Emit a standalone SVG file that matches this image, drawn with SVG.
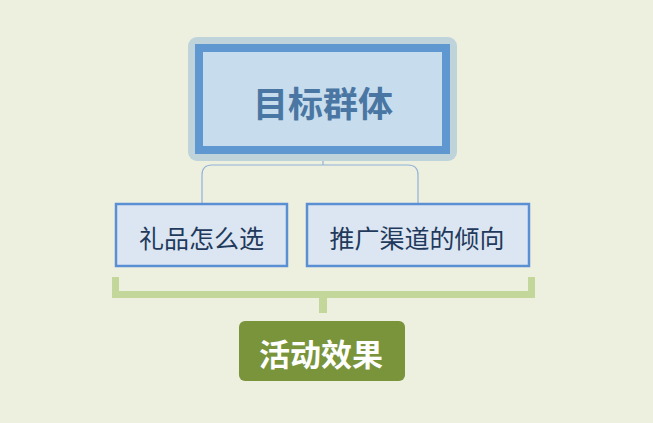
<svg xmlns="http://www.w3.org/2000/svg" width="653" height="423" viewBox="0 0 653 423">
<style>
.child rect{fill:#DCE6F2;stroke:#5B8FD3;stroke-width:2.5}
.child text{font-family:"Noto Sans CJK SC","Noto Sans",sans-serif;font-size:25px;fill:#1F3A5C;text-anchor:middle;dominant-baseline:central}
.conn{fill:none;stroke:#8FB2D8;stroke-width:1.2}
.brk{fill:#C4D79B}
</style>
<rect width="653" height="423" fill="#EDF0DF"/>
<g id="connectors">
<path class="conn" d="M323 154 V165 M202 204 V175 Q202 165 212 165 H408 Q418 165 418 175 V204"/>
<path class="brk" d="M112 277 H119 V291 H528 V277 H535 V298 H327 V313 H319 V298 H112 Z"/>
</g>
<g id="root">
<rect x="188" y="37" width="269" height="124" rx="9" fill="#BED3DA"/>
<rect x="199" y="48" width="247" height="102" fill="#C7DDED" stroke="#5F98D1" stroke-width="8"/>
<text x="323" y="101" font-family="Noto Sans CJK SC,sans-serif" font-size="35" font-weight="bold" fill="#4A76A3" text-anchor="middle" dominant-baseline="central">目标群体</text>
</g>
<g id="child1" class="child">
<rect x="116" y="204" width="171" height="62"/>
<text x="201.5" y="237">礼品怎么选</text>
</g>
<g id="child2" class="child">
<rect x="307" y="204" width="222" height="62"/>
<text x="417" y="237">推广渠道的倾向</text>
</g>
<g id="result">
<rect x="239" y="321" width="166" height="60" rx="6" fill="#7A943B"/>
<text x="321" y="352" font-family="Noto Sans CJK SC,sans-serif" font-size="31" font-weight="bold" fill="#FFFFFF" text-anchor="middle" dominant-baseline="central">活动效果</text>
</g>
</svg>
